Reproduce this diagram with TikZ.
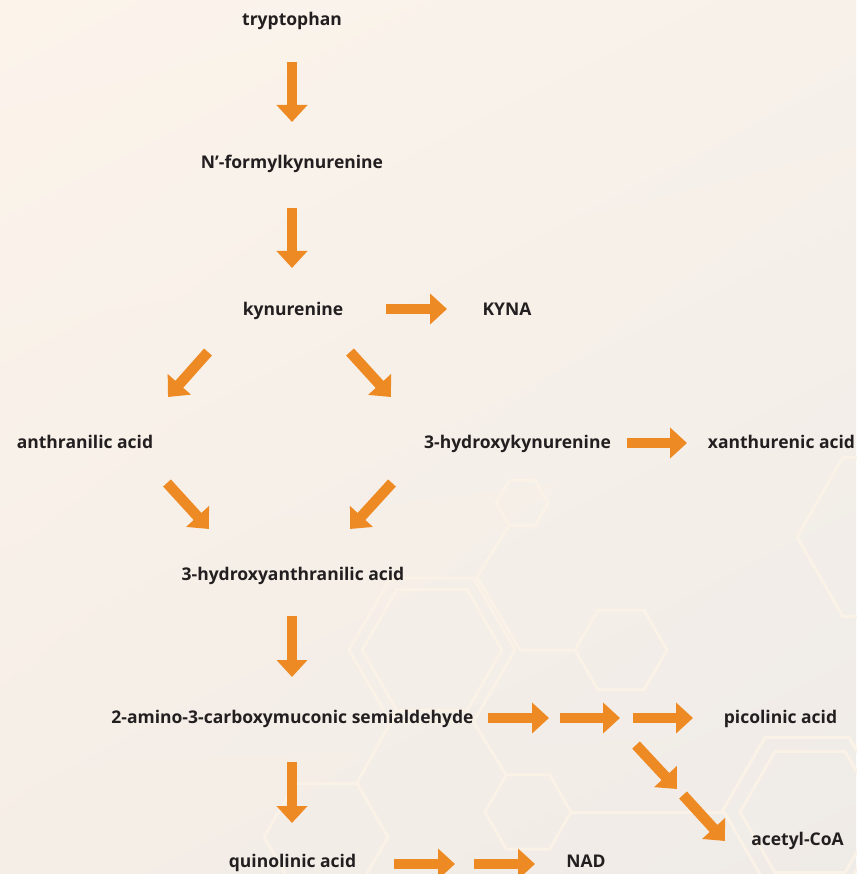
\documentclass[tikz,border=0pt]{standalone}
\usepackage{fontspec}
\setmainfont{Open Sans}
\usetikzlibrary{arrows.meta,shadings}
\definecolor{arr}{RGB}{238,138,36}
\definecolor{txt}{RGB}{35,31,32}
\definecolor{hexc}{RGB}{250,242,231}
\definecolor{bgA}{RGB}{252,244,235}
\definecolor{bgB}{RGB}{247,241,234}
\definecolor{bgC}{RGB}{245,238,231}
\definecolor{bgD}{RGB}{239,235,231}
\newcommand\myhex[3]{\draw[hexline] (#1+#3,#2) -- ++(120:#3) -- ++(180:#3) -- ++(240:#3) -- ++(300:#3) -- ++(0:#3) -- cycle;}
\begin{document}
\begin{tikzpicture}[x=1pt,y=-1pt,
  lbl/.style={anchor=base, text=txt, font=\fontsize{17.5}{20}\selectfont\bfseries, inner sep=0pt},
  flow/.style={draw=arr, line width=10.5pt, -{Triangle[length=17pt,width=30pt]}},
  hexline/.style={draw=hexc, line width=3pt, line join=round}]
\shade[upper left=bgA, upper right=bgB, lower left=bgC, lower right=bgD] (0,0) rectangle (856,874);
\useasboundingbox (0,0) rectangle (856,874);
% background hexagons
\myhex{432}{650}{70}
\myhex{432}{650}{83}
\myhex{621}{650}{46}
\myhex{522}{503}{26}
\myhex{528}{812}{43}
\myhex{807}{810}{84}
\myhex{810}{812}{70}
\myhex{326}{837}{62}
\myhex{889}{537}{92}
\draw[hexline] (509,525) -- (477,577) -- (520,650) -- (575,650);
\draw[hexline] (571,812) -- (723,812);
\draw[hexline] (357,783) -- (397,711);
\draw[hexline] (467,711) -- (506,775);
% labels
\node[lbl] (trp) at (292,26) {tryptophan};
\node[lbl] (nfk) at (292,169) {N’-formylkynurenine};
\node[lbl] (kyn) at (293,315) {kynurenine};
\node[lbl] (kyna) at (507,315) {KYNA};
\node[lbl] (aa) at (85,448) {anthranilic acid};
\node[lbl] (hk) at (517.5,448) {3-hydroxykynurenine};
\node[lbl] (xa) at (781.5,448) {xanthurenic acid};
\node[lbl] (haa) at (293,580) {3-hydroxyanthranilic acid};
\node[lbl] (acms) at (292.5,723) {2-amino-3-carboxymuconic semialdehyde};
\node[lbl] (pic) at (780.5,723) {picolinic acid};
\node[lbl] (acoa) at (797.5,845) {acetyl-CoA};
\node[lbl] (qa) at (292.5,867) {quinolinic acid};
\node[lbl] (nad) at (586,867) {NAD};
% arrow end points
\coordinate (a1s) at (292,62);  \coordinate (a1e) at (292,122);
\coordinate (a2s) at (292,208); \coordinate (a2e) at (292,268);
\coordinate (a3s) at (386,309); \coordinate (a3e) at (447,309);
\coordinate (a4s) at (208,352); \coordinate (a4e) at (168,397);
\coordinate (a5s) at (350,352); \coordinate (a5e) at (391,397);
\coordinate (a6s) at (627,443); \coordinate (a6e) at (687,443);
\coordinate (a7s) at (167,483); \coordinate (a7e) at (209,529);
\coordinate (a8s) at (392,483); \coordinate (a8e) at (350,529);
\coordinate (a9s) at (292,616); \coordinate (a9e) at (292,677);
\coordinate (b1s) at (292,762); \coordinate (b1e) at (292,823);
\coordinate (b2s) at (488,718); \coordinate (b2e) at (549,718);
\coordinate (b3s) at (560,718); \coordinate (b3e) at (620,718);
\coordinate (b4s) at (633,718); \coordinate (b4e) at (693,718);
\coordinate (b5s) at (636,745); \coordinate (b5e) at (677,789);
\coordinate (b6s) at (683,795); \coordinate (b6e) at (725,841);
\coordinate (b7s) at (394,864); \coordinate (b7e) at (455,864);
\coordinate (b8s) at (474,864); \coordinate (b8e) at (535,864);
\foreach \n in {a1,a2,a3,a4,a5,a6,a7,a8,a9,b1,b2,b3,b4,b5,b6,b7,b8}
  \draw[flow] (\n s) -- (\n e);
\end{tikzpicture}
\end{document}
